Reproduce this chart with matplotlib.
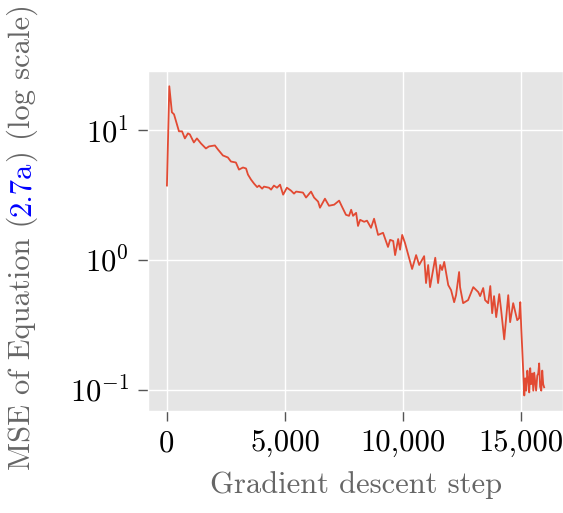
import numpy as np
import matplotlib.pyplot as plt
from matplotlib.ticker import FuncFormatter, LogLocator

plt.style.use('ggplot')
plt.rcParams['font.family'] = ['cmr10', 'DejaVu Serif']
plt.rcParams['mathtext.fontset'] = 'cm'
plt.rcParams['axes.formatter.use_mathtext'] = True

# valores (paso, MSE)
pasos = [0, 100, 210, 300, 510, 640, 760, 890, 970, 1140, 1270, 1440, 1650, 1780,
         2030, 2160, 2370, 2580, 2710, 2920, 3050, 3220, 3350, 3430, 3560, 3690,
         3820, 3900, 4030, 4110, 4320, 4410, 4530, 4660, 4790, 4920, 5080, 5250,
         5380, 5470, 5760, 5890, 6100, 6230, 6400, 6480, 6690, 6860, 7080, 7290,
         7410, 7580, 7710, 7800, 7880, 8010, 8090, 8180, 8350, 8470, 8640, 8770,
         8940, 9150, 9360, 9450, 9580, 9660, 9790, 9870, 9960, 10080, 10380, 10550,
         10680, 10890, 10970, 11060, 11140, 11360, 11480, 11570, 11650, 11740,
         11910, 12030, 12160, 12240, 12370, 12410, 12540, 12750, 12970, 13180,
         13260, 13390, 13470, 13600, 13690, 13770, 13850, 13940, 14070, 14150,
         14280, 14450, 14530, 14660, 14830, 14910, 14960, 15000, 15040, 15130,
         15170, 15210, 15260, 15300, 15340, 15380, 15420, 15470, 15510, 15550,
         15590, 15630, 15680, 15720, 15760, 15800, 15850, 15890, 15930, 15970]
mse = [3.75, 21.9, 13.8, 13.3, 9.83, 9.83, 8.67, 9.48, 9.31, 8.07, 8.67, 7.93, 7.25, 7.52,
       7.65, 7.12, 6.40, 6.18, 5.75, 5.65, 4.98, 5.17, 5.08, 4.56, 4.17, 3.88,
       3.65, 3.75, 3.55, 3.68, 3.61, 3.49, 3.75, 3.61, 3.81, 3.19, 3.61, 3.43,
       3.25, 3.37, 3.31, 3.03, 3.37, 3.03, 2.82, 2.53, 2.97, 2.62, 2.67, 2.87,
       2.58, 2.23, 2.19, 2.44, 2.19, 2.31, 1.83, 2.04, 1.97, 2.01, 1.77, 2.08,
       1.56, 1.62, 1.26, 1.43, 1.40, 1.09, 1.45, 1.20, 1.56, 1.35, 0.852, 1.09,
       0.914, 1.07, 0.663, 0.914, 0.617, 1.04, 0.663, 0.914, 0.836, 0.965,
       0.640, 0.585, 0.472, 0.535, 0.807, 0.617, 0.464, 0.490, 0.617, 0.565,
       0.526, 0.607, 0.490, 0.464, 0.629, 0.388, 0.526, 0.362, 0.545, 0.410,
       0.244, 0.535, 0.331, 0.464, 0.343, 0.355, 0.472, 0.300, 0.210, 0.090,
       0.122, 0.098, 0.140, 0.120, 0.095, 0.146, 0.110, 0.133, 0.098, 0.135,
       0.115, 0.098, 0.128, 0.133, 0.159, 0.105, 0.098, 0.140, 0.110, 0.104]

fig = plt.figure(figsize=(5.63, 5.13), dpi=100)
ax = fig.add_axes([0.263, 0.199, 0.737, 0.663])
ax.plot(pasos, mse, color='#E24A33', lw=1.3)
ax.set_yscale('log')
ax.yaxis.set_major_locator(LogLocator(base=10, numticks=10))
ax.yaxis.set_minor_locator(LogLocator(base=10, subs=[]))
ax.xaxis.set_major_formatter(FuncFormatter(lambda v, p: f'{v:,.0f}'))
ax.set_xticks([0, 5000, 10000, 15000])
ax.tick_params(labelsize=22, colors='#555555', labelcolor='black', length=7.5, width=1,
               pad=6)
ax.grid(True, which='major', color='white', lw=1)
ax.set_xlabel('Gradient descent step', fontsize=22, color='#666666', labelpad=10)

# etiqueta del eje y con la referencia en azul
t1 = fig.text(0.039, 0.083, 'MSE of Equation (', rotation=90, ha='center', va='bottom',
              fontsize=22, color='#666666')
t2 = ax.annotate('2.7a', xy=(0.5, 1), xycoords=t1, rotation=90, ha='center', va='bottom',
                 fontsize=22, color='blue')
t3 = ax.annotate(') (log scale)', xy=(0.5, 1), xycoords=t2, rotation=90, ha='center',
                 va='bottom', fontsize=22, color='#666666')

fig.savefig('out.png', dpi=100)
